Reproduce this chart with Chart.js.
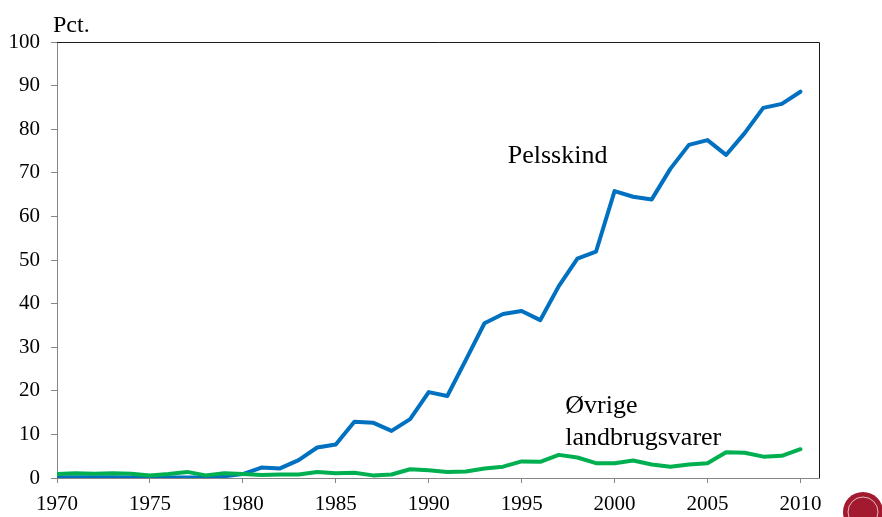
<!DOCTYPE html>
<html>
<head>
<meta charset="utf-8">
<script src="https://cdn.jsdelivr.net/npm/chart.js@4"></script>
<style>
  body { margin: 0; background: #fff; }
  .wrap { width: 882px; height: 517px; }
</style>
</head>
<body>
<div class="wrap"><canvas id="chart"></canvas></div>
<script>
const years = [
  1970, 1971, 1972, 1973, 1974, 1975, 1976, 1977, 1978, 1979,
  1980, 1981, 1982, 1983, 1984, 1985, 1986, 1987, 1988, 1989,
  1990, 1991, 1992, 1993, 1994, 1995, 1996, 1997, 1998, 1999,
  2000, 2001, 2002, 2003, 2004, 2005, 2006, 2007, 2008, 2009, 2010
];

// Pelsskind
const furValues = [
  0.2, 0.2, 0.2, 0.2, 0.1, 0.1, 0.1, 0.1, 0.2, 0.4,
  0.9, 2.4, 2.2, 4.1, 7.0, 7.7, 12.9, 12.7, 10.8, 13.5,
  19.7, 18.8, 27.1, 35.5, 37.6, 38.3, 36.2, 44.0, 50.3, 51.9,
  65.8, 64.5, 63.9, 70.9, 76.4, 77.5, 74.1, 79.1, 84.9, 85.8, 88.6
];

// Øvrige landbrugsvarer
const otherValues = [
  0.9, 1.1, 1.0, 1.1, 1.0, 0.6, 0.9, 1.4, 0.6, 1.1,
  0.9, 0.7, 0.8, 0.8, 1.4, 1.1, 1.2, 0.6, 0.8, 2.0,
  1.8, 1.4, 1.5, 2.2, 2.6, 3.8, 3.7, 5.3, 4.7, 3.4,
  3.4, 4.0, 3.1, 2.6, 3.1, 3.4, 5.9, 5.8, 4.9, 5.1, 6.6
];

const yTicks = [0, 10, 20, 30, 40, 50, 60, 70, 80, 90, 100];

const serif = '"Liberation Serif", "Times New Roman", serif';

// text labels, frame top/right and the seal in the corner
const decorations = {
  id: 'decorations',
  afterDraw(chart) {
    const { ctx, chartArea, scales } = chart;
    ctx.save();

    ctx.strokeStyle = '#1a1a1a';
    ctx.lineWidth = 1;
    ctx.beginPath();
    ctx.moveTo(chartArea.left, chartArea.top + 0.5);
    ctx.lineTo(chartArea.right + 0.5, chartArea.top + 0.5);
    ctx.lineTo(chartArea.right + 0.5, chartArea.bottom);
    ctx.stroke();

    ctx.fillStyle = '#000';
    ctx.textBaseline = 'alphabetic';
    ctx.textAlign = 'left';
    ctx.font = '24px ' + serif;
    ctx.fillText('Pct.', chartArea.left - 4, chartArea.top - 10);

    ctx.font = '26px ' + serif;
    ctx.fillText('Pelsskind', scales.x.getPixelForValue(1994.25), scales.y.getPixelForValue(72.2));
    ctx.fillText('Øvrige', scales.x.getPixelForValue(1997.35), scales.y.getPixelForValue(14.9));
    ctx.fillText('landbrugsvarer', scales.x.getPixelForValue(1997.35), scales.y.getPixelForValue(7.6));

    // seal, mostly cut off by the edge
    ctx.fillStyle = '#a3192f';
    ctx.beginPath();
    ctx.arc(863, 512, 20, 0, Math.PI * 2);
    ctx.fill();
    ctx.strokeStyle = 'rgba(255,255,255,0.7)';
    ctx.lineWidth = 1;
    ctx.beginPath();
    ctx.arc(863, 512, 15, 0, Math.PI * 2);
    ctx.stroke();
    ctx.restore();
  }
};

new Chart(document.getElementById('chart'), {
  type: 'line',
  data: {
    datasets: [
      {
        label: 'Øvrige landbrugsvarer',
        data: years.map((yr, i) => ({ x: yr, y: otherValues[i] })),
        borderColor: '#00b050',
        borderWidth: 4,
        order: 0
      },
      {
        label: 'Pelsskind',
        data: years.map((yr, i) => ({ x: yr, y: furValues[i] })),
        borderColor: '#0070c0',
        borderWidth: 4,
        order: 1
      }
    ]
  },
  options: {
    responsive: true,
    maintainAspectRatio: false,
    animation: false,
    layout: { padding: { left: 0, top: 42, right: 63, bottom: 0 } },
    elements: {
      point: { radius: 0 },
      line: { tension: 0, borderJoinStyle: 'round', borderCapStyle: 'round' }
    },
    plugins: {
      legend: { display: false },
      tooltip: { enabled: false }
    },
    scales: {
      x: {
        type: 'linear',
        min: 1970,
        max: 2011,
        afterFit(scale) { scale.height = 39; },
        grid: { drawOnChartArea: false, drawTicks: true, tickLength: 5, color: '#868686' },
        border: { display: true, color: '#868686' },
        ticks: {
          stepSize: 5,
          includeBounds: false,
          padding: 9,
          color: '#000',
          font: { family: serif, size: 21 },
          callback: v => String(v)
        }
      },
      y: {
        min: 0,
        max: 100,
        afterFit(scale) { scale.width = 57; },
        afterBuildTicks(scale) { scale.ticks = yTicks.map(v => ({ value: v })); },
        grid: { drawOnChartArea: false, drawTicks: true, tickLength: 6, color: '#868686' },
        border: { display: true, color: '#868686' },
        ticks: {
          padding: 11,
          color: '#000',
          font: { family: serif, size: 21 }
        }
      }
    }
  },
  plugins: [decorations]
});
</script>
</body>
</html>
